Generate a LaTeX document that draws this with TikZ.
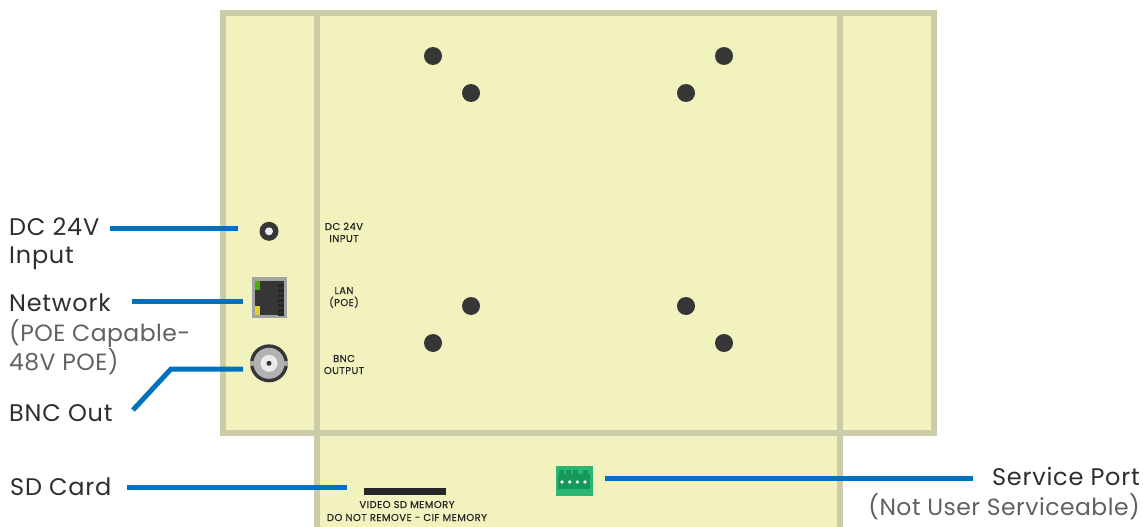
\documentclass[tikz,border=0pt]{standalone}
\usepackage{fontspec}
\setmainfont{Poppins}
\newfontfamily\silkfont{Poppins}[LetterSpace=4.5, FakeBold=0.35]
\newfontfamily\bigfont{Poppins}[LetterSpace=3.2]
\newfontfamily\subfont{Poppins}[LetterSpace=2]
\usepackage{xcolor}
\usepackage{tikz}
\usetikzlibrary{positioning, calc}

\definecolor{boardfill}{HTML}{F2F2BF}
\definecolor{boardline}{HTML}{CCCCA8}
\definecolor{leadblue}{HTML}{0071BC}
\definecolor{portdark}{HTML}{363636}
\definecolor{portgreen}{HTML}{2BB673}
\definecolor{portgreendark}{HTML}{15985A}

\tikzset{
    board/.style={draw=boardline, fill=boardfill, line width=6pt, line join=miter},
    leader/.style={draw=leadblue, line width=5pt, line join=miter},
    hole/.style={circle, fill=portdark, minimum size=18pt, inner sep=0pt},
    silk/.style={font=\silkfont\fontsize{10}{10}\selectfont, text=black!85, inner sep=0pt, anchor=base},
    biglabel/.style={font=\bigfont\fontsize{24}{25}\selectfont, text=black!82, inner sep=0pt, anchor=base west},
    sublabel/.style={font=\subfont\fontsize{23.5}{24}\selectfont, text=black!62, inner sep=0pt, anchor=base west},
}

\begin{document}
\begin{tikzpicture}[x=1pt, y=-1pt]
\useasboundingbox (0,0) rectangle (1143,527);
\begin{scope}
    % Board outline
    \draw[board] (317,433) rectangle (840,530);
    \draw[board] (223,13) rectangle (934,433);
    \draw[board] (317,13) -- (317,433);
    \draw[board] (840,13) -- (840,433);

    % Mounting holes
    \foreach \x/\y/\name in {433/56/a, 471/93/b, 724/56/c, 686/93/d, 471/306/e, 433/343/f, 686/306/g, 724/343/h} {
        \node[hole] (hole\name) at (\x,\y) {};
    }

    % DC jack
    \node[circle, fill=portdark, minimum size=19pt, inner sep=0pt] (jack) at (269,231.3) {};
    \node[circle, fill=black!8, minimum size=8pt, inner sep=0pt] at (jack) {};

    % Network port
    \node[rectangle, fill=black!36, minimum width=35pt, minimum height=41pt, inner sep=0pt] (rjport) at (269.5,297.5) {};
    \node[rectangle, fill=portdark, minimum width=29pt, minimum height=34pt, inner sep=0pt] (rjbody) at (269.5,298) {};
    \fill[green!55!black!70!yellow] (255,281) rectangle (259.5,290);
    \fill[yellow!85!black] (255,306) rectangle (259.5,315);
    \foreach \y in {284,289,294,299,304,309,313} {
        \fill[black!85] (278,\y) rectangle (284,\y+2.6);
    }

    % BNC connector
    \node[circle, fill=portdark, minimum size=38pt, inner sep=0pt] (bnc) at (269,363.3) {};
    \fill[black!35] (250,361) rectangle (288,366);
    \node[circle, fill=black!30, minimum size=31pt, inner sep=0pt] at (bnc) {};
    \node[circle, fill=black!8, minimum size=17pt, inner sep=0pt] at (bnc) {};
    \node[circle, fill=portdark, minimum size=5pt, inner sep=0pt] at (bnc) {};

    % SD slot
    \node[rectangle, fill=black!85, minimum width=82pt, minimum height=7pt, inner sep=0pt] (sdslot) at (405,491.5) {};

    % Service port
    \node[rectangle, fill=portgreen, minimum width=37pt, minimum height=30pt, inner sep=0pt] (svcport) at (574,481) {};
    \fill[portgreendark] (558,474) rectangle (590,489);
    \foreach \x in {559,566,573,583} {
        \fill[portgreendark] (\x,470) rectangle (\x+5,474);
    }
    \foreach \x in {562,569.7,577.3,585} {
        \fill[white] (\x,482) circle (1.8pt);
    }

    % Board markings
    \node[silk] (silkdca) at (344,230) {DC 24V};
    \node[silk] (silkdcb) at (344,242) {INPUT};
    \node[silk] (silklana) at (344,294) {LAN};
    \node[silk] (silklanb) at (344,306) {(POE)};
    \node[silk] (silkbnca) at (344,362) {BNC};
    \node[silk] (silkbncb) at (344,374) {OUTPUT};
    \node[silk] (silksda) at (407,508) {VIDEO SD MEMORY};
    \node[silk] (silksdb) at (407,521) {DO NOT REMOVE - CIF MEMORY};

    % Labels
    \node[biglabel] (dclabel) at (9,235.5) {DC 24V};
    \node[biglabel] (dcsub) at (9,263) {Input};
    \node[biglabel] (netlabel) at (9,311) {Network};
    \node[sublabel] (netsuba) at (9,341.5) {(POE Capable-};
    \node[sublabel] (netsubb) at (9,370.5) {48V POE)};
    \node[biglabel] (bnclabel) at (9,421.5) {BNC Out};
    \node[biglabel] (sdlabel) at (10,495) {SD Card};
    \node[biglabel, anchor=base east] (svclabel) at (1140,485.5) {Service Port};
    \node[sublabel, anchor=base east] (svcsub) at (1140,515) {(Not User Serviceable)};

    % Leader lines
    \coordinate (dcfrom) at (110,228.7);
    \coordinate (dcto) at (238,228.7);
    \coordinate (netfrom) at (132,301.7);
    \coordinate (netto) at (243,301.7);
    \coordinate (bncfrom) at (133,410);
    \coordinate (bncbend) at (171,369);
    \coordinate (bncto) at (243,369);
    \coordinate (sdfrom) at (127,487);
    \coordinate (sdto) at (347,487);
    \coordinate (svcfrom) at (973,478);
    \coordinate (svcto) at (605,478);
    \draw[leader] (dcfrom) -- (dcto);
    \draw[leader] (netfrom) -- (netto);
    \draw[leader] (bncfrom) -- (bncbend) -- (bncto);
    \draw[leader] (sdfrom) -- (sdto);
    \draw[leader] (svcfrom) -- (svcto);
\end{scope}
\end{tikzpicture}
\end{document}
